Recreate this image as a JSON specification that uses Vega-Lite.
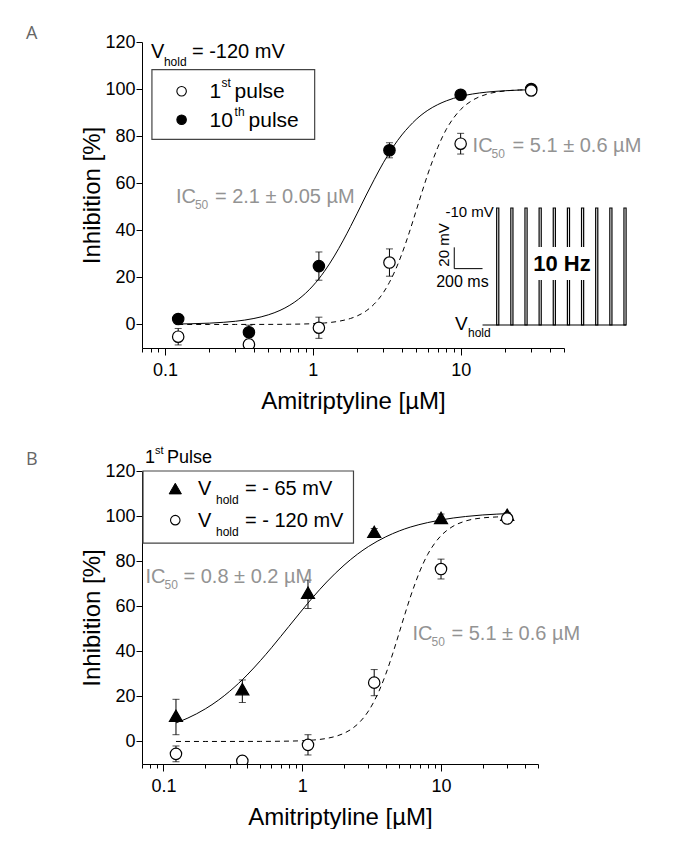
{
"$schema": "https://vega.github.io/schema/vega-lite/v6.json",
"padding": {"left": 25, "top": 25, "right": 0, "bottom": 0},
"spacing": 32,
"resolve": {"scale": {"fill": "independent", "shape": "independent", "size": "independent", "x": "independent", "y": "independent"}},
"config": {
  "font": "Liberation Sans",
  "view": {"stroke": null},
  "text": {"font": "Liberation Sans"},
  "axis": {"domainColor": "black", "tickColor": "black", "labelColor": "black", "titleColor": "black", "labelFont": "Liberation Sans", "titleFont": "Liberation Sans", "labelFontSize": 18, "titleFontSize": 24, "titleFontWeight": "normal", "grid": false, "domainWidth": 1, "tickWidth": 1}
},
"datasets": {
  "ptsA": [
    {"pulse": "10th", "conc": 0.123, "inh": 2.3, "lo": 1.3, "hi": 3.3},
    {"pulse": "10th", "conc": 0.37, "inh": -3.3, "lo": -6.3, "hi": -0.3},
    {"pulse": "10th", "conc": 1.1, "inh": 24.8, "lo": 18.8, "hi": 30.8},
    {"pulse": "10th", "conc": 3.3, "inh": 74.0, "lo": 70.8, "hi": 77.2},
    {"pulse": "10th", "conc": 10, "inh": 97.6, "lo": 96.6, "hi": 98.6},
    {"pulse": "10th", "conc": 30, "inh": 100.0, "lo": 99.0, "hi": 101.0},
    {"pulse": "1st", "conc": 0.123, "inh": -5.2, "lo": -8.7, "hi": -1.7},
    {"pulse": "1st", "conc": 0.37, "inh": -8.5, "lo": -10.5, "hi": -6.5},
    {"pulse": "1st", "conc": 1.1, "inh": -1.4, "lo": -5.9, "hi": 3.1},
    {"pulse": "1st", "conc": 3.3, "inh": 26.3, "lo": 20.5, "hi": 32.1},
    {"pulse": "1st", "conc": 10, "inh": 76.8, "lo": 72.4, "hi": 81.2},
    {"pulse": "1st", "conc": 30, "inh": 99.4, "lo": 97.9, "hi": 100.9}
  ],
  "ptsB": [
    {"vhold": "v65", "conc": 0.123, "inh": 11.4, "lo": 3.0, "hi": 18.7},
    {"vhold": "v65", "conc": 0.37, "inh": 23.2, "lo": 17.3, "hi": 27.3},
    {"vhold": "v65", "conc": 1.1, "inh": 66.0, "lo": 59.0, "hi": 71.6},
    {"vhold": "v65", "conc": 3.3, "inh": 93.0, "lo": 91.5, "hi": 94.5},
    {"vhold": "v65", "conc": 10, "inh": 99.2, "lo": 97.5, "hi": 100.9},
    {"vhold": "v65", "conc": 30, "inh": 100.6, "lo": 99.6, "hi": 101.6},
    {"vhold": "v120", "conc": 0.123, "inh": -5.5, "lo": -9.0, "hi": -2.0},
    {"vhold": "v120", "conc": 0.37, "inh": -8.6, "lo": -10.6, "hi": -6.6},
    {"vhold": "v120", "conc": 1.1, "inh": -1.5, "lo": -6.0, "hi": 3.0},
    {"vhold": "v120", "conc": 3.3, "inh": 26.1, "lo": 20.3, "hi": 31.9},
    {"vhold": "v120", "conc": 10, "inh": 76.5, "lo": 72.1, "hi": 80.9},
    {"vhold": "v120", "conc": 30, "inh": 98.9, "lo": 96.9, "hi": 100.9}
  ],
  "fitA10": [
    {"conc": 0.123, "inh": 0.19}, {"conc": 0.15, "inh": 0.30}, {"conc": 0.2, "inh": 0.56}, {"conc": 0.25, "inh": 0.92},
    {"conc": 0.3, "inh": 1.36}, {"conc": 0.4, "inh": 2.54}, {"conc": 0.5, "inh": 4.08}, {"conc": 0.6, "inh": 5.97},
    {"conc": 0.7, "inh": 8.19}, {"conc": 0.8, "inh": 10.69}, {"conc": 1.0, "inh": 16.35}, {"conc": 1.2, "inh": 22.6},
    {"conc": 1.4, "inh": 29.1}, {"conc": 1.6, "inh": 35.5}, {"conc": 1.8, "inh": 41.6}, {"conc": 2.0, "inh": 47.3},
    {"conc": 2.3, "inh": 55.0}, {"conc": 2.6, "inh": 61.5}, {"conc": 3.0, "inh": 68.7}, {"conc": 3.5, "inh": 75.5},
    {"conc": 4.0, "inh": 80.5}, {"conc": 4.5, "inh": 84.2}, {"conc": 5.0, "inh": 87.1}, {"conc": 6.0, "inh": 91.0},
    {"conc": 7.0, "inh": 93.4}, {"conc": 8.0, "inh": 95.0}, {"conc": 10, "inh": 96.9}, {"conc": 12, "inh": 97.9},
    {"conc": 15, "inh": 98.7}, {"conc": 20, "inh": 99.3}, {"conc": 25, "inh": 99.6}, {"conc": 30, "inh": 99.7}
  ],
  "fit120": [
    {"conc": 0.123, "inh": 0.0}, {"conc": 0.2, "inh": 0.0}, {"conc": 0.3, "inh": 0.01}, {"conc": 0.5, "inh": 0.03},
    {"conc": 0.7, "inh": 0.1}, {"conc": 1.0, "inh": 0.33}, {"conc": 1.2, "inh": 0.63}, {"conc": 1.5, "inh": 1.36},
    {"conc": 1.8, "inh": 2.55}, {"conc": 2.0, "inh": 3.64}, {"conc": 2.3, "inh": 5.8}, {"conc": 2.6, "inh": 8.64},
    {"conc": 3.0, "inh": 13.5}, {"conc": 3.3, "inh": 17.9}, {"conc": 3.6, "inh": 22.8}, {"conc": 4.0, "inh": 29.9},
    {"conc": 4.5, "inh": 39.2}, {"conc": 5.0, "inh": 48.3}, {"conc": 5.5, "inh": 56.6}, {"conc": 6.0, "inh": 63.9},
    {"conc": 6.5, "inh": 70.0}, {"conc": 7.0, "inh": 75.2}, {"conc": 8.0, "inh": 82.9}, {"conc": 9.0, "inh": 87.9},
    {"conc": 10, "inh": 91.3}, {"conc": 12, "inh": 95.2}, {"conc": 15, "inh": 97.8}, {"conc": 20, "inh": 99.2},
    {"conc": 25, "inh": 99.6}, {"conc": 30, "inh": 99.8}
  ],
  "fit65": [
    {"conc": 0.123, "inh": 8.22}, {"conc": 0.15, "inh": 10.4}, {"conc": 0.2, "inh": 14.44}, {"conc": 0.25, "inh": 18.42},
    {"conc": 0.3, "inh": 22.28}, {"conc": 0.4, "inh": 29.46}, {"conc": 0.5, "inh": 35.9}, {"conc": 0.6, "inh": 41.57},
    {"conc": 0.7, "inh": 46.6}, {"conc": 0.8, "inh": 51.0}, {"conc": 1.0, "inh": 58.35}, {"conc": 1.2, "inh": 64.15},
    {"conc": 1.5, "inh": 70.75}, {"conc": 2.0, "inh": 78.2}, {"conc": 2.5, "inh": 83.1}, {"conc": 3.0, "inh": 86.5},
    {"conc": 4.0, "inh": 90.8}, {"conc": 5.0, "inh": 93.4}, {"conc": 6.0, "inh": 95.1}, {"conc": 8.0, "inh": 97.1},
    {"conc": 10, "inh": 98.3}, {"conc": 15, "inh": 99.8}, {"conc": 20, "inh": 100.5}, {"conc": 25, "inh": 100.85},
    {"conc": 30, "inh": 101.1}
  ],
  "pulses": [
    {"t0": 100, "t1": 115}, {"t0": 200, "t1": 215}, {"t0": 300, "t1": 315}, {"t0": 400, "t1": 415}, {"t0": 500, "t1": 515},
    {"t0": 600, "t1": 615}, {"t0": 700, "t1": 715}, {"t0": 800, "t1": 815}, {"t0": 900, "t1": 915}, {"t0": 1000, "t1": 1015}
  ]
},
"vconcat": [
{
  "title": {"text": "A", "anchor": "start", "frame": "bounds", "font": "Open Sans", "fontSize": 18, "fontWeight": "normal", "color": "#666666", "dx": -55, "offset": -10},
  "width": 422,
  "height": 306,
  "data": {"values": [{}]},
  "resolve": {"scale": {"x": "independent", "y": "independent"}},
  "layer": [
    {"layer": [
      {"data": {"name": "fit120"}, "mark": {"type": "line", "color": "black", "strokeWidth": 1, "strokeDash": [5, 4], "interpolate": "monotone"},
       "encoding": {
         "x": {"field": "conc", "type": "quantitative", "scale": {"type": "log", "domain": [0.07, 50], "nice": false},
               "axis": {"title": "Amitriptyline [µM]", "values": [0.07,0.08,0.09,0.1,0.2,0.3,0.4,0.5,0.6,0.7,0.8,0.9,1,2,3,4,5,6,7,8,9,10,20,30,40,50],
                        "labelExpr": "indexof(['0.1','1','10'], format(datum.value,'~g')) >= 0 ? format(datum.value,'~g') : ''",
                        "tickSize": {"condition": {"test": "indexof(['0.1','1','10'], format(datum.value,'~g')) >= 0", "value": 7}, "value": 4},
                        "labelPadding": 6, "titlePadding": 10, "labelOverlap": false, "labelFlush": false, "labelBound": false}},
         "y": {"field": "inh", "type": "quantitative", "scale": {"domain": [-10, 120], "nice": false, "zero": false},
               "axis": {"title": "Inhibition [%]", "values": [0,10,20,30,40,50,60,70,80,90,100,110,120],
                        "labelExpr": "datum.value % 20 === 0 ? datum.label : ''",
                        "tickSize": {"condition": {"test": "datum.value % 20 === 0", "value": 6}, "value": 3},
                        "labelPadding": 1, "titlePadding": 0, "labelOverlap": false}}
       }},
      {"data": {"name": "fitA10"}, "mark": {"type": "line", "color": "black", "strokeWidth": 1, "interpolate": "monotone"},
       "encoding": {
         "x": {"field": "conc", "type": "quantitative", "scale": {"type": "log", "domain": [0.07, 50], "nice": false}},
         "y": {"field": "inh", "type": "quantitative", "scale": {"domain": [-10, 120], "nice": false, "zero": false}}
       }},
      {"data": {"name": "ptsA"}, "mark": {"type": "rule", "color": "black", "strokeWidth": 1, "clip": true},
       "encoding": {
         "x": {"field": "conc", "type": "quantitative", "scale": {"type": "log", "domain": [0.07, 50], "nice": false}},
         "y": {"field": "lo", "type": "quantitative", "scale": {"domain": [-10, 120], "nice": false, "zero": false}},
         "y2": {"field": "hi"}
       }},
      {"data": {"name": "ptsA"}, "mark": {"type": "tick", "orient": "horizontal", "size": 7, "thickness": 1, "color": "black", "clip": true},
       "encoding": {
         "x": {"field": "conc", "type": "quantitative", "scale": {"type": "log", "domain": [0.07, 50], "nice": false}},
         "y": {"field": "lo", "type": "quantitative", "scale": {"domain": [-10, 120], "nice": false, "zero": false}}
       }},
      {"data": {"name": "ptsA"}, "mark": {"type": "tick", "orient": "horizontal", "size": 7, "thickness": 1, "color": "black", "clip": true},
       "encoding": {
         "x": {"field": "conc", "type": "quantitative", "scale": {"type": "log", "domain": [0.07, 50], "nice": false}},
         "y": {"field": "hi", "type": "quantitative", "scale": {"domain": [-10, 120], "nice": false, "zero": false}}
       }},
      {"data": {"name": "ptsA"}, "mark": {"type": "point", "shape": "circle", "filled": true, "size": 130, "stroke": "black", "strokeWidth": 1.2, "opacity": 1, "clip": true},
       "encoding": {
         "x": {"field": "conc", "type": "quantitative", "scale": {"type": "log", "domain": [0.07, 50], "nice": false}},
         "y": {"field": "inh", "type": "quantitative", "scale": {"domain": [-10, 120], "nice": false, "zero": false}},
         "fill": {"field": "pulse", "type": "nominal", "scale": {"domain": ["1st", "10th"], "range": ["white", "black"]}, "legend": null}
       }},
      {"mark": {"type": "text", "text": "V", "align": "left", "baseline": "alphabetic", "fontSize": 20, "color": "black"},
       "encoding": {"x": {"datum": 0.0804, "type": "quantitative", "scale": {"type": "log", "domain": [0.07, 50], "nice": false}}, "y": {"datum": 113.4, "type": "quantitative", "scale": {"domain": [-10, 120], "nice": false, "zero": false}}}},
      {"mark": {"type": "text", "text": "hold", "align": "left", "baseline": "alphabetic", "fontSize": 12, "dx": 13, "dy": 8, "color": "black"},
       "encoding": {"x": {"datum": 0.0804, "type": "quantitative", "scale": {"type": "log", "domain": [0.07, 50], "nice": false}}, "y": {"datum": 113.4, "type": "quantitative", "scale": {"domain": [-10, 120], "nice": false, "zero": false}}}},
      {"mark": {"type": "text", "text": "= -120 mV", "align": "left", "baseline": "alphabetic", "fontSize": 20, "dx": 41, "color": "black"},
       "encoding": {"x": {"datum": 0.0804, "type": "quantitative", "scale": {"type": "log", "domain": [0.07, 50], "nice": false}}, "y": {"datum": 113.4, "type": "quantitative", "scale": {"domain": [-10, 120], "nice": false, "zero": false}}}},
      {"mark": {"type": "rect", "filled": false, "color": "#444444", "strokeWidth": 1.2},
       "encoding": {"x": {"datum": 0.0817, "type": "quantitative", "scale": {"type": "log", "domain": [0.07, 50], "nice": false}}, "x2": {"datum": 1.03},
                    "y": {"datum": 78.6, "type": "quantitative", "scale": {"domain": [-10, 120], "nice": false, "zero": false}}, "y2": {"datum": 108.3}}},
      {"mark": {"type": "point", "shape": "circle", "filled": true, "fill": "white", "stroke": "black", "strokeWidth": 1.1, "size": 90, "opacity": 1},
       "encoding": {"x": {"datum": 0.1297, "type": "quantitative", "scale": {"type": "log", "domain": [0.07, 50], "nice": false}}, "y": {"datum": 99.1, "type": "quantitative", "scale": {"domain": [-10, 120], "nice": false, "zero": false}}}},
      {"mark": {"type": "point", "shape": "circle", "filled": true, "fill": "black", "stroke": "black", "strokeWidth": 1.1, "size": 90, "opacity": 1},
       "encoding": {"x": {"datum": 0.1297, "type": "quantitative", "scale": {"type": "log", "domain": [0.07, 50], "nice": false}}, "y": {"datum": 87.0, "type": "quantitative", "scale": {"domain": [-10, 120], "nice": false, "zero": false}}}},
      {"mark": {"type": "text", "text": "1", "align": "left", "baseline": "alphabetic", "fontSize": 21, "color": "black"},
       "encoding": {"x": {"datum": 0.2005, "type": "quantitative", "scale": {"type": "log", "domain": [0.07, 50], "nice": false}}, "y": {"datum": 96.4, "type": "quantitative", "scale": {"domain": [-10, 120], "nice": false, "zero": false}}}},
      {"mark": {"type": "text", "text": "st", "align": "left", "baseline": "alphabetic", "fontSize": 12, "dx": 12, "dy": -11, "color": "black"},
       "encoding": {"x": {"datum": 0.2005, "type": "quantitative", "scale": {"type": "log", "domain": [0.07, 50], "nice": false}}, "y": {"datum": 96.4, "type": "quantitative", "scale": {"domain": [-10, 120], "nice": false, "zero": false}}}},
      {"mark": {"type": "text", "text": "pulse", "align": "left", "baseline": "alphabetic", "fontSize": 21, "dx": 25, "color": "black"},
       "encoding": {"x": {"datum": 0.2005, "type": "quantitative", "scale": {"type": "log", "domain": [0.07, 50], "nice": false}}, "y": {"datum": 96.4, "type": "quantitative", "scale": {"domain": [-10, 120], "nice": false, "zero": false}}}},
      {"mark": {"type": "text", "text": "10", "align": "left", "baseline": "alphabetic", "fontSize": 21, "color": "black"},
       "encoding": {"x": {"datum": 0.2005, "type": "quantitative", "scale": {"type": "log", "domain": [0.07, 50], "nice": false}}, "y": {"datum": 84.1, "type": "quantitative", "scale": {"domain": [-10, 120], "nice": false, "zero": false}}}},
      {"mark": {"type": "text", "text": "th", "align": "left", "baseline": "alphabetic", "fontSize": 12, "dx": 25, "dy": -11, "color": "black"},
       "encoding": {"x": {"datum": 0.2005, "type": "quantitative", "scale": {"type": "log", "domain": [0.07, 50], "nice": false}}, "y": {"datum": 84.1, "type": "quantitative", "scale": {"domain": [-10, 120], "nice": false, "zero": false}}}},
      {"mark": {"type": "text", "text": "pulse", "align": "left", "baseline": "alphabetic", "fontSize": 21, "dx": 39, "color": "black"},
       "encoding": {"x": {"datum": 0.2005, "type": "quantitative", "scale": {"type": "log", "domain": [0.07, 50], "nice": false}}, "y": {"datum": 84.1, "type": "quantitative", "scale": {"domain": [-10, 120], "nice": false, "zero": false}}}},
      {"mark": {"type": "text", "text": "IC", "align": "left", "baseline": "alphabetic", "fontSize": 20, "color": "#939393"},
       "encoding": {"x": {"datum": 0.1187, "type": "quantitative", "scale": {"type": "log", "domain": [0.07, 50], "nice": false}}, "y": {"datum": 51.4, "type": "quantitative", "scale": {"domain": [-10, 120], "nice": false, "zero": false}}}},
      {"mark": {"type": "text", "text": "50", "align": "left", "baseline": "alphabetic", "fontSize": 12, "dx": 19, "dy": 6, "color": "#939393"},
       "encoding": {"x": {"datum": 0.1187, "type": "quantitative", "scale": {"type": "log", "domain": [0.07, 50], "nice": false}}, "y": {"datum": 51.4, "type": "quantitative", "scale": {"domain": [-10, 120], "nice": false, "zero": false}}}},
      {"mark": {"type": "text", "text": "= 2.1 ± 0.05 µM", "align": "left", "baseline": "alphabetic", "fontSize": 20, "dx": 39, "color": "#939393"},
       "encoding": {"x": {"datum": 0.1187, "type": "quantitative", "scale": {"type": "log", "domain": [0.07, 50], "nice": false}}, "y": {"datum": 51.4, "type": "quantitative", "scale": {"domain": [-10, 120], "nice": false, "zero": false}}}},
      {"mark": {"type": "text", "text": "IC", "align": "left", "baseline": "alphabetic", "fontSize": 20, "color": "#939393"},
       "encoding": {"x": {"datum": 12.05, "type": "quantitative", "scale": {"type": "log", "domain": [0.07, 50], "nice": false}}, "y": {"datum": 73.2, "type": "quantitative", "scale": {"domain": [-10, 120], "nice": false, "zero": false}}}},
      {"mark": {"type": "text", "text": "50", "align": "left", "baseline": "alphabetic", "fontSize": 12, "dx": 19, "dy": 6, "color": "#939393"},
       "encoding": {"x": {"datum": 12.05, "type": "quantitative", "scale": {"type": "log", "domain": [0.07, 50], "nice": false}}, "y": {"datum": 73.2, "type": "quantitative", "scale": {"domain": [-10, 120], "nice": false, "zero": false}}}},
      {"mark": {"type": "text", "text": "= 5.1 ± 0.6 µM", "align": "left", "baseline": "alphabetic", "fontSize": 20, "dx": 40, "color": "#939393"},
       "encoding": {"x": {"datum": 12.05, "type": "quantitative", "scale": {"type": "log", "domain": [0.07, 50], "nice": false}}, "y": {"datum": 73.2, "type": "quantitative", "scale": {"domain": [-10, 120], "nice": false, "zero": false}}}}
    ]},
    {"layer": [
      {"mark": {"type": "rule", "color": "black", "strokeWidth": 1.2},
       "encoding": {"x": {"datum": 0, "type": "quantitative", "scale": {"domain": [-2408, 576], "nice": false, "zero": false}, "axis": null}, "x2": {"datum": 1015},
                    "y": {"datum": -120, "type": "quantitative", "scale": {"domain": [-141.6, 146], "nice": false, "zero": false}, "axis": null}}},
      {"data": {"name": "pulses"}, "mark": {"type": "rect", "filled": false, "color": "black", "strokeWidth": 1.2},
       "encoding": {"x": {"field": "t0", "type": "quantitative", "scale": {"domain": [-2408, 576], "nice": false, "zero": false}, "axis": null}, "x2": {"field": "t1"},
                    "y": {"datum": -120, "type": "quantitative", "scale": {"domain": [-141.6, 146], "nice": false, "zero": false}, "axis": null}, "y2": {"datum": -10}}},
      {"mark": {"type": "rect", "color": "white", "opacity": 1},
       "encoding": {"x": {"datum": 330, "type": "quantitative", "scale": {"domain": [-2408, 576], "nice": false, "zero": false}, "axis": null}, "x2": {"datum": 780},
                    "y": {"datum": -77.7, "type": "quantitative", "scale": {"domain": [-141.6, 146], "nice": false, "zero": false}, "axis": null}, "y2": {"datum": -46.7}}},
      {"mark": {"type": "text", "text": "10 Hz", "align": "center", "baseline": "middle", "fontSize": 22, "fontWeight": "bold", "color": "black"},
       "encoding": {"x": {"datum": 562, "type": "quantitative", "scale": {"domain": [-2408, 576], "nice": false, "zero": false}, "axis": null},
                    "y": {"datum": -62.7, "type": "quantitative", "scale": {"domain": [-141.6, 146], "nice": false, "zero": false}, "axis": null}}},
      {"mark": {"type": "rule", "color": "black", "strokeWidth": 1},
       "encoding": {"x": {"datum": -200, "type": "quantitative", "scale": {"domain": [-2408, 576], "nice": false, "zero": false}, "axis": null},
                    "y": {"datum": -67, "type": "quantitative", "scale": {"domain": [-141.6, 146], "nice": false, "zero": false}, "axis": null}, "y2": {"datum": -47}}},
      {"mark": {"type": "rule", "color": "black", "strokeWidth": 1},
       "encoding": {"x": {"datum": -200, "type": "quantitative", "scale": {"domain": [-2408, 576], "nice": false, "zero": false}, "axis": null}, "x2": {"datum": 0},
                    "y": {"datum": -67, "type": "quantitative", "scale": {"domain": [-141.6, 146], "nice": false, "zero": false}, "axis": null}}},
      {"mark": {"type": "text", "text": "-10 mV", "align": "right", "baseline": "middle", "fontSize": 15, "color": "black"},
       "encoding": {"x": {"datum": 80, "type": "quantitative", "scale": {"domain": [-2408, 576], "nice": false, "zero": false}, "axis": null},
                    "y": {"datum": -13.8, "type": "quantitative", "scale": {"domain": [-141.6, 146], "nice": false, "zero": false}, "axis": null}}},
      {"mark": {"type": "text", "text": "20 mV", "align": "center", "baseline": "middle", "angle": 270, "fontSize": 15, "color": "black"},
       "encoding": {"x": {"datum": -273, "type": "quantitative", "scale": {"domain": [-2408, 576], "nice": false, "zero": false}, "axis": null},
                    "y": {"datum": -44.8, "type": "quantitative", "scale": {"domain": [-141.6, 146], "nice": false, "zero": false}, "axis": null}}},
      {"mark": {"type": "text", "text": "200 ms", "align": "center", "baseline": "middle", "fontSize": 16, "color": "black"},
       "encoding": {"x": {"datum": -142, "type": "quantitative", "scale": {"domain": [-2408, 576], "nice": false, "zero": false}, "axis": null},
                    "y": {"datum": -79.3, "type": "quantitative", "scale": {"domain": [-141.6, 146], "nice": false, "zero": false}, "axis": null}}},
      {"mark": {"type": "text", "text": "V", "align": "left", "baseline": "alphabetic", "fontSize": 19, "color": "black"},
       "encoding": {"x": {"datum": -195, "type": "quantitative", "scale": {"domain": [-2408, 576], "nice": false, "zero": false}, "axis": null},
                    "y": {"datum": -124.7, "type": "quantitative", "scale": {"domain": [-141.6, 146], "nice": false, "zero": false}, "axis": null}}},
      {"mark": {"type": "text", "text": "hold", "align": "left", "baseline": "alphabetic", "fontSize": 12, "dx": 13, "dy": 7, "color": "black"},
       "encoding": {"x": {"datum": -195, "type": "quantitative", "scale": {"domain": [-2408, 576], "nice": false, "zero": false}, "axis": null},
                    "y": {"datum": -124.7, "type": "quantitative", "scale": {"domain": [-141.6, 146], "nice": false, "zero": false}, "axis": null}}}
    ]}
  ]
},
{
  "title": {"text": "B", "anchor": "start", "frame": "bounds", "font": "Open Sans", "fontSize": 18, "fontWeight": "normal", "color": "#666666", "dx": -55, "offset": -24},
  "width": 396,
  "height": 293,
  "data": {"values": [{}]},
  "layer": [
    {"data": {"name": "fit120"}, "mark": {"type": "line", "color": "black", "strokeWidth": 1, "strokeDash": [5, 4], "interpolate": "monotone"},
     "encoding": {
       "x": {"field": "conc", "type": "quantitative", "scale": {"type": "log", "domain": [0.07, 50], "nice": false},
             "axis": {"title": "Amitriptyline [µM]", "values": [0.07,0.08,0.09,0.1,0.2,0.3,0.4,0.5,0.6,0.7,0.8,0.9,1,2,3,4,5,6,7,8,9,10,20,30,40,50],
                      "labelExpr": "indexof(['0.1','1','10'], format(datum.value,'~g')) >= 0 ? format(datum.value,'~g') : ''",
                      "tickSize": {"condition": {"test": "indexof(['0.1','1','10'], format(datum.value,'~g')) >= 0", "value": 7}, "value": 4},
                      "labelPadding": 6, "titlePadding": 10, "labelOverlap": false, "labelFlush": false, "labelBound": false}},
       "y": {"field": "inh", "type": "quantitative", "scale": {"domain": [-10, 120], "nice": false, "zero": false},
             "axis": {"title": "Inhibition [%]", "values": [0,10,20,30,40,50,60,70,80,90,100,110,120],
                      "labelExpr": "datum.value % 20 === 0 ? datum.label : ''",
                      "tickSize": {"condition": {"test": "datum.value % 20 === 0", "value": 6}, "value": 3},
                      "labelPadding": 1, "titlePadding": 0, "labelOverlap": false}}
     }},
    {"data": {"name": "fit65"}, "mark": {"type": "line", "color": "black", "strokeWidth": 1, "interpolate": "monotone"},
     "encoding": {
       "x": {"field": "conc", "type": "quantitative", "scale": {"type": "log", "domain": [0.07, 50], "nice": false}},
       "y": {"field": "inh", "type": "quantitative", "scale": {"domain": [-10, 120], "nice": false, "zero": false}}
     }},
    {"data": {"name": "ptsB"}, "mark": {"type": "rule", "color": "black", "strokeWidth": 1, "clip": true},
     "encoding": {
       "x": {"field": "conc", "type": "quantitative", "scale": {"type": "log", "domain": [0.07, 50], "nice": false}},
       "y": {"field": "lo", "type": "quantitative", "scale": {"domain": [-10, 120], "nice": false, "zero": false}},
       "y2": {"field": "hi"}
     }},
    {"data": {"name": "ptsB"}, "mark": {"type": "tick", "orient": "horizontal", "size": 7, "thickness": 1, "color": "black", "clip": true},
     "encoding": {
       "x": {"field": "conc", "type": "quantitative", "scale": {"type": "log", "domain": [0.07, 50], "nice": false}},
       "y": {"field": "lo", "type": "quantitative", "scale": {"domain": [-10, 120], "nice": false, "zero": false}}
     }},
    {"data": {"name": "ptsB"}, "mark": {"type": "tick", "orient": "horizontal", "size": 7, "thickness": 1, "color": "black", "clip": true},
     "encoding": {
       "x": {"field": "conc", "type": "quantitative", "scale": {"type": "log", "domain": [0.07, 50], "nice": false}},
       "y": {"field": "hi", "type": "quantitative", "scale": {"domain": [-10, 120], "nice": false, "zero": false}}
     }},
    {"data": {"name": "ptsB"}, "mark": {"type": "point", "filled": true, "stroke": "black", "strokeWidth": 1.2, "opacity": 1, "clip": true},
     "encoding": {
       "x": {"field": "conc", "type": "quantitative", "scale": {"type": "log", "domain": [0.07, 50], "nice": false}},
       "y": {"field": "inh", "type": "quantitative", "scale": {"domain": [-10, 120], "nice": false, "zero": false}},
       "fill": {"field": "vhold", "type": "nominal", "scale": {"domain": ["v65", "v120"], "range": ["black", "white"]}, "legend": null},
       "shape": {"field": "vhold", "type": "nominal", "scale": {"domain": ["v65", "v120"], "range": ["triangle-up", "circle"]}, "legend": null},
       "size": {"field": "vhold", "type": "nominal", "scale": {"domain": ["v65", "v120"], "range": [170, 130]}, "legend": null}
     }},
    {"mark": {"type": "text", "text": "1", "align": "left", "baseline": "alphabetic", "fontSize": 18, "color": "black"},
     "encoding": {"x": {"datum": 0.0736, "type": "quantitative", "scale": {"type": "log", "domain": [0.07, 50], "nice": false}}, "y": {"datum": 123.4, "type": "quantitative", "scale": {"domain": [-10, 120], "nice": false, "zero": false}}}},
    {"mark": {"type": "text", "text": "st", "align": "left", "baseline": "alphabetic", "fontSize": 11, "dx": 10, "dy": -9, "color": "black"},
     "encoding": {"x": {"datum": 0.0736, "type": "quantitative", "scale": {"type": "log", "domain": [0.07, 50], "nice": false}}, "y": {"datum": 123.4, "type": "quantitative", "scale": {"domain": [-10, 120], "nice": false, "zero": false}}}},
    {"mark": {"type": "text", "text": "Pulse", "align": "left", "baseline": "alphabetic", "fontSize": 18, "dx": 22, "color": "black"},
     "encoding": {"x": {"datum": 0.0736, "type": "quantitative", "scale": {"type": "log", "domain": [0.07, 50], "nice": false}}, "y": {"datum": 123.4, "type": "quantitative", "scale": {"domain": [-10, 120], "nice": false, "zero": false}}}},
    {"mark": {"type": "rect", "filled": false, "color": "#444444", "strokeWidth": 1.2},
     "encoding": {"x": {"datum": 0.0712, "type": "quantitative", "scale": {"type": "log", "domain": [0.07, 50], "nice": false}}, "x2": {"datum": 2.34},
                  "y": {"datum": 88, "type": "quantitative", "scale": {"domain": [-10, 120], "nice": false, "zero": false}}, "y2": {"datum": 120}}},
    {"mark": {"type": "point", "shape": "triangle-up", "filled": true, "fill": "black", "stroke": "black", "strokeWidth": 1, "size": 150, "opacity": 1},
     "encoding": {"x": {"datum": 0.1216, "type": "quantitative", "scale": {"type": "log", "domain": [0.07, 50], "nice": false}}, "y": {"datum": 112.2, "type": "quantitative", "scale": {"domain": [-10, 120], "nice": false, "zero": false}}}},
    {"mark": {"type": "point", "shape": "circle", "filled": true, "fill": "white", "stroke": "black", "strokeWidth": 1.1, "size": 90, "opacity": 1},
     "encoding": {"x": {"datum": 0.1216, "type": "quantitative", "scale": {"type": "log", "domain": [0.07, 50], "nice": false}}, "y": {"datum": 98.2, "type": "quantitative", "scale": {"domain": [-10, 120], "nice": false, "zero": false}}}},
    {"mark": {"type": "text", "text": "V", "align": "left", "baseline": "alphabetic", "fontSize": 20, "color": "black"},
     "encoding": {"x": {"datum": 0.1773, "type": "quantitative", "scale": {"type": "log", "domain": [0.07, 50], "nice": false}}, "y": {"datum": 109.3, "type": "quantitative", "scale": {"domain": [-10, 120], "nice": false, "zero": false}}}},
    {"mark": {"type": "text", "text": "hold", "align": "left", "baseline": "alphabetic", "fontSize": 12, "dx": 18, "dy": 9, "color": "black"},
     "encoding": {"x": {"datum": 0.1773, "type": "quantitative", "scale": {"type": "log", "domain": [0.07, 50], "nice": false}}, "y": {"datum": 109.3, "type": "quantitative", "scale": {"domain": [-10, 120], "nice": false, "zero": false}}}},
    {"mark": {"type": "text", "text": "= - 65 mV", "align": "left", "baseline": "alphabetic", "fontSize": 20, "dx": 47, "color": "black"},
     "encoding": {"x": {"datum": 0.1773, "type": "quantitative", "scale": {"type": "log", "domain": [0.07, 50], "nice": false}}, "y": {"datum": 109.3, "type": "quantitative", "scale": {"domain": [-10, 120], "nice": false, "zero": false}}}},
    {"mark": {"type": "text", "text": "V", "align": "left", "baseline": "alphabetic", "fontSize": 20, "color": "black"},
     "encoding": {"x": {"datum": 0.1773, "type": "quantitative", "scale": {"type": "log", "domain": [0.07, 50], "nice": false}}, "y": {"datum": 95.0, "type": "quantitative", "scale": {"domain": [-10, 120], "nice": false, "zero": false}}}},
    {"mark": {"type": "text", "text": "hold", "align": "left", "baseline": "alphabetic", "fontSize": 12, "dx": 18, "dy": 9, "color": "black"},
     "encoding": {"x": {"datum": 0.1773, "type": "quantitative", "scale": {"type": "log", "domain": [0.07, 50], "nice": false}}, "y": {"datum": 95.0, "type": "quantitative", "scale": {"domain": [-10, 120], "nice": false, "zero": false}}}},
    {"mark": {"type": "text", "text": "= - 120 mV", "align": "left", "baseline": "alphabetic", "fontSize": 20, "dx": 47, "color": "black"},
     "encoding": {"x": {"datum": 0.1773, "type": "quantitative", "scale": {"type": "log", "domain": [0.07, 50], "nice": false}}, "y": {"datum": 95.0, "type": "quantitative", "scale": {"domain": [-10, 120], "nice": false, "zero": false}}}},
    {"mark": {"type": "text", "text": "IC", "align": "left", "baseline": "alphabetic", "fontSize": 20, "color": "#939393"},
     "encoding": {"x": {"datum": 0.0742, "type": "quantitative", "scale": {"type": "log", "domain": [0.07, 50], "nice": false}}, "y": {"datum": 70.4, "type": "quantitative", "scale": {"domain": [-10, 120], "nice": false, "zero": false}}}},
    {"mark": {"type": "text", "text": "50", "align": "left", "baseline": "alphabetic", "fontSize": 12, "dx": 19, "dy": 6, "color": "#939393"},
     "encoding": {"x": {"datum": 0.0742, "type": "quantitative", "scale": {"type": "log", "domain": [0.07, 50], "nice": false}}, "y": {"datum": 70.4, "type": "quantitative", "scale": {"domain": [-10, 120], "nice": false, "zero": false}}}},
    {"mark": {"type": "text", "text": "= 0.8 ± 0.2 µM", "align": "left", "baseline": "alphabetic", "fontSize": 20, "dx": 38, "color": "#939393"},
     "encoding": {"x": {"datum": 0.0742, "type": "quantitative", "scale": {"type": "log", "domain": [0.07, 50], "nice": false}}, "y": {"datum": 70.4, "type": "quantitative", "scale": {"domain": [-10, 120], "nice": false, "zero": false}}}},
    {"mark": {"type": "text", "text": "IC", "align": "left", "baseline": "alphabetic", "fontSize": 20, "color": "#939393"},
     "encoding": {"x": {"datum": 6.23, "type": "quantitative", "scale": {"type": "log", "domain": [0.07, 50], "nice": false}}, "y": {"datum": 45.0, "type": "quantitative", "scale": {"domain": [-10, 120], "nice": false, "zero": false}}}},
    {"mark": {"type": "text", "text": "50", "align": "left", "baseline": "alphabetic", "fontSize": 12, "dx": 19, "dy": 6, "color": "#939393"},
     "encoding": {"x": {"datum": 6.23, "type": "quantitative", "scale": {"type": "log", "domain": [0.07, 50], "nice": false}}, "y": {"datum": 45.0, "type": "quantitative", "scale": {"domain": [-10, 120], "nice": false, "zero": false}}}},
    {"mark": {"type": "text", "text": "= 5.1 ± 0.6 µM", "align": "left", "baseline": "alphabetic", "fontSize": 20, "dx": 39, "color": "#939393"},
     "encoding": {"x": {"datum": 6.23, "type": "quantitative", "scale": {"type": "log", "domain": [0.07, 50], "nice": false}}, "y": {"datum": 45.0, "type": "quantitative", "scale": {"domain": [-10, 120], "nice": false, "zero": false}}}}
  ]
}
]
}
